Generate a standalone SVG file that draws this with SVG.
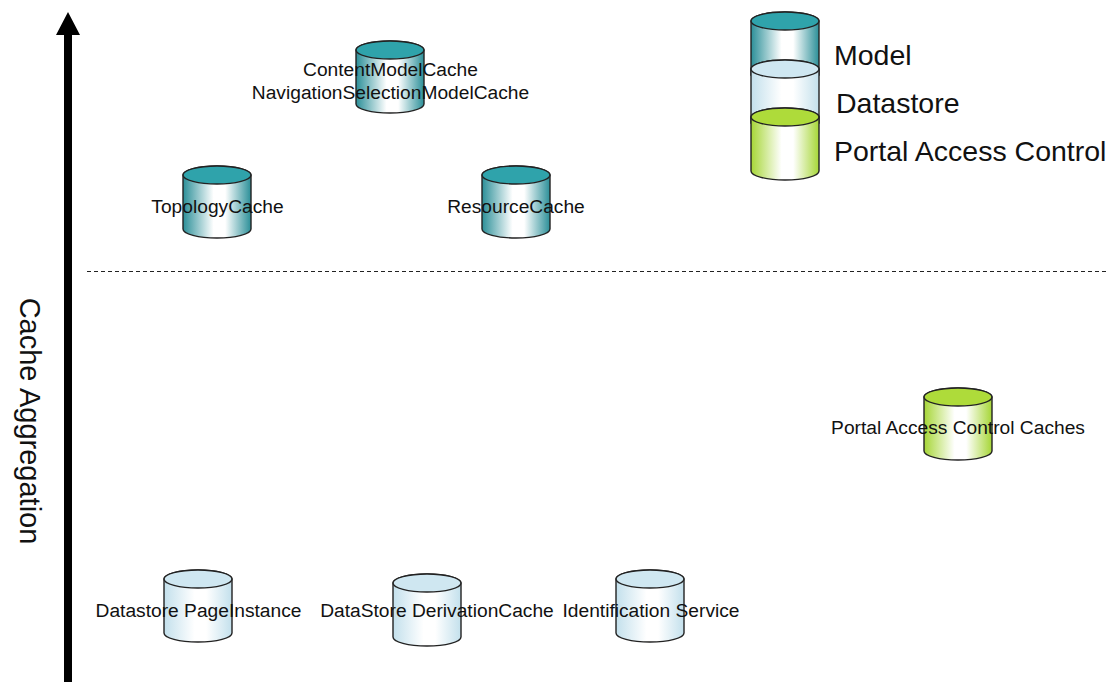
<svg xmlns="http://www.w3.org/2000/svg" width="1107" height="682" viewBox="0 0 1107 682">
<style>
text{font-family:"Liberation Sans",Arial,sans-serif;fill:#111}
.l{font-size:19.200px;text-anchor:middle}
.k{font-size:28.500px}
.b{stroke:#222;stroke-width:1.400}
.m{fill:url(#gm)}.d{fill:url(#gd)}.p{fill:url(#gp)}
.mt{fill:#2fa3ab}.dt{fill:#cfe7f1}.pt{fill:#aedb3a}
</style>
<defs>
<linearGradient id="gm"><stop offset="0" stop-color="#2b8f98"/><stop offset=".45" stop-color="#fff"/><stop offset=".62" stop-color="#fff"/><stop offset="1" stop-color="#2b8f98"/></linearGradient>
<linearGradient id="gd"><stop offset="0" stop-color="#c3e0ec"/><stop offset=".45" stop-color="#fff"/><stop offset=".62" stop-color="#fff"/><stop offset="1" stop-color="#c3e0ec"/></linearGradient>
<linearGradient id="gp"><stop offset="0" stop-color="#a6d636"/><stop offset=".45" stop-color="#fff"/><stop offset=".62" stop-color="#fff"/><stop offset="1" stop-color="#a6d636"/></linearGradient>
<path id="body" d="M0 9V63A34 9 0 0 0 68 63V9A34 9 0 0 0 0 9Z"/>
<ellipse id="top" cx="34" cy="9" rx="34" ry="9"/>
</defs>
<rect width="1107" height="682" fill="#fff"/>
<g id="connectors">
<path d="M64 35H56L68 12L80 35H72V682H64Z" fill="#000"/>
<line x1="87" y1="271.500" x2="1107" y2="271.500" stroke="#222" stroke-width="1.100" stroke-dasharray="4 3"/>
</g>
<text id="axis-label" transform="translate(20 421) rotate(90)" text-anchor="middle" style="font-size:29px">Cache Aggregation</text>
<g id="legend">
<g id="legend-model" transform="translate(751 12)"><path class="b m" d="M0 9V63H68V9A34 9 0 0 0 0 9Z"/><use href="#top" class="b mt"/></g>
<g id="legend-datastore" transform="translate(751 60)"><path class="b d" d="M0 9V63H68V9A34 9 0 0 0 0 9Z"/><use href="#top" class="b dt"/></g>
<g id="legend-pac" transform="translate(751 108)"><use href="#body" class="b p"/><use href="#top" class="b pt"/></g>
<text class="k" x="834" y="65">Model</text>
<text class="k" x="836" y="113">Datastore</text>
<text class="k" x="834" y="161">Portal Access Control</text>
</g>
<g id="node-content"><g transform="translate(356 41)"><use href="#body" class="b m"/><use href="#top" class="b mt"/></g>
<text class="l" x="390.500" y="76">ContentModelCache</text><text class="l" x="390.500" y="99">NavigationSelectionModelCache</text></g>
<g id="node-topology"><g transform="translate(183 166)"><use href="#body" class="b m"/><use href="#top" class="b mt"/></g>
<text class="l" x="217.500" y="213">TopologyCache</text></g>
<g id="node-resource"><g transform="translate(482 166)"><use href="#body" class="b m"/><use href="#top" class="b mt"/></g>
<text class="l" x="516" y="213">ResourceCache</text></g>
<g id="node-pac"><g transform="translate(924 388)"><use href="#body" class="b p"/><use href="#top" class="b pt"/></g>
<text class="l" x="958" y="434">Portal Access Control Caches</text></g>
<g id="node-pageinstance"><g transform="translate(164 570)"><use href="#body" class="b d"/><use href="#top" class="b dt"/></g>
<text class="l" x="198.500" y="617">Datastore PageInstance</text></g>
<g id="node-derivation"><g transform="translate(393 574)"><use href="#body" class="b d"/><use href="#top" class="b dt"/></g>
<text class="l" x="437" y="617">DataStore DerivationCache</text></g>
<g id="node-identification"><g transform="translate(616 570)"><use href="#body" class="b d"/><use href="#top" class="b dt"/></g>
<text class="l" x="651" y="617">Identification Service</text></g>
</svg>
